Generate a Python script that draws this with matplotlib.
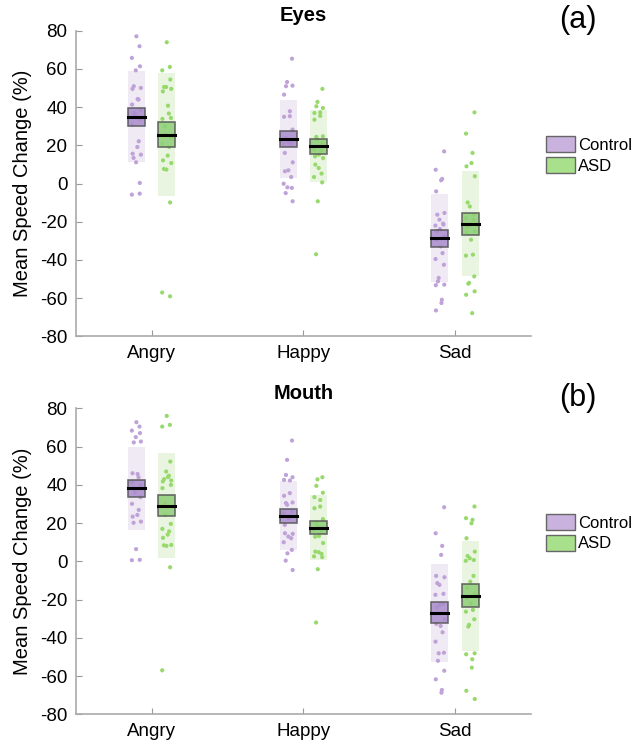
import matplotlib.pyplot as plt
import numpy as np
from matplotlib.patches import Rectangle, Patch

plt.rcParams['font.family'] = ['Liberation Sans', 'DejaVu Sans']
plt.rcParams['axes.unicode_minus'] = False

emotions = ['Angry', 'Happy', 'Sad']
groups = ['Control', 'ASD']

# summary values: mean, half-width of 95% CI, SD
eyes_mean = {'Control': [34.8, 23.3, -28.7], 'ASD': [25.6, 19.5, -21.0]}
eyes_ci = {'Control': [4.8, 4.4, 4.6], 'ASD': [6.5, 3.9, 5.7]}
eyes_sd = {'Control': [23.8, 20.6, 23.0], 'ASD': [32.0, 18.8, 27.3]}

mouth_mean = {'Control': [38.3, 23.9, -26.8], 'ASD': [29.2, 17.7, -17.9]}
mouth_ci = {'Control': [4.4, 3.6, 5.3], 'ASD': [5.6, 3.6, 5.9]}
mouth_sd = {'Control': [21.7, 17.9, 25.6], 'ASD': [27.5, 17.0, 28.8]}

# individual participants
eyes_control_angry = [77.0, 71.8, 65.7, 61.3, 59.2, 50.9, 50.0, 49.5, 44.2, 43.9, 41.3, 38.7,
                      36.9, 36.0, 33.8, 30.8, 22.1, 19.1, 15.6, 15.1, 13.4, 11.1, 0.3, -5.8, -5.3]
eyes_asd_angry = [73.9, 61.0, 59.2, 54.4, 50.5, 50.5, 49.5, 48.2, 40.7, 36.6, 33.8, 34.3, 29.9,
                  25.6, 23.8, 20.9, 19.1, 14.6, 12.1, 10.7, 7.6, 7.3, -9.9, -57.0, -59.0]
eyes_control_happy = [65.3, 53.1, 50.9, 51.2, 46.5, 37.8, 35.2, 34.9, 28.2, 23.8, 23.0, 21.2,
                      20.9, 20.3, 21.5, 16.0, 11.1, 6.4, 6.9, 3.4, -0.1, -2.3, -2.0, -5.0, -9.3]
eyes_asd_happy = [49.5, 42.7, 40.4, 39.5, 36.9, 37.2, 35.4, 33.4, 24.7, 24.4, 23.0, 21.2, 17.7,
                  17.2, 15.1, 14.2, 13.3, 9.9, 8.1, 5.2, 3.4, 0.6, -9.3, -37.0]
eyes_control_sad = [16.8, 7.2, 2.4, 1.7, -4.1, -15.4, -16.3, -18.9, -21.5, -22.0, -21.0, -23.8,
                    -25.0, -27.7, -29.4, -32.9, -36.4, -39.5, -42.5, -49.4, -51.2, -52.9, -53.2,
                    -60.8, -62.5, -66.4]
eyes_asd_sad = [37.2, 26.1, 16.0, 10.7, 9.0, 3.8, -9.9, -12.0, -16.3, -18.1, -19.0, -21.5, -22.8,
                -25.0, -25.6, -29.4, -37.2, -37.7, -48.6, -52.0, -52.4, -56.4, -58.2, -67.8]

mouth_control_angry = [72.8, 70.5, 68.4, 67.1, 65.0, 62.2, 62.7, 46.1, 45.7, 44.0, 41.2, 39.9,
                       38.0, 36.0, 33.6, 30.1, 26.9, 24.3, 23.4, 20.8, 20.2, 6.4, 0.8, 0.6]
mouth_asd_angry = [76.1, 71.4, 70.5, 52.2, 47.0, 43.0, 42.3, 41.8, 44.1, 44.8, 38.3, 40.0, 30.4,
                   24.3, 19.6, 17.0, 15.7, 14.0, 12.3, 8.6, 8.4, 8.1, -3.1, -57.0]
mouth_control_happy = [63.2, 53.1, 45.2, 44.0, 42.6, 42.3, 35.7, 34.3, 30.8, 30.5, 29.6, 26.0,
                       25.2, 23.4, 22.6, 19.1, 14.4, 14.7, 13.0, 12.1, 10.0, 6.0, 4.2, 0.4, -4.5]
mouth_asd_happy = [44.0, 42.9, 39.5, 35.9, 33.6, 32.1, 28.7, 27.8, 22.1, 20.3, 18.2, 17.8, 16.3,
                   15.4, 13.2, 12.9, 9.6, 5.1, 4.8, 3.9, 2.6, 2.2, -4.1, -32.0]
mouth_control_sad = [28.3, 14.7, 8.1, 3.4, -7.6, -8.3, -11.4, -12.3, -17.0, -17.5, -22.3, -22.8,
                     -24.0, -30.3, -32.7, -33.8, -37.1, -42.0, -47.8, -48.1, -52.0, -57.2, -61.7,
                     -67.3, -68.7]
mouth_asd_sad = [28.7, 22.6, 21.7, 19.9, 12.1, 5.1, 2.8, 1.6, 0.7, 0.3, -7.6, -10.6, -14.0, -16.6,
                 -19.2, -21.9, -25.4, -26.3, -30.3, -33.2, -34.1, -48.1, -48.6, -51.2, -55.6,
                 -67.7, -72.0]

eyes_points = {'Control': [eyes_control_angry, eyes_control_happy, eyes_control_sad],
               'ASD': [eyes_asd_angry, eyes_asd_happy, eyes_asd_sad]}
mouth_points = {'Control': [mouth_control_angry, mouth_control_happy, mouth_control_sad],
                'ASD': [mouth_asd_angry, mouth_asd_happy, mouth_asd_sad]}

point_col = {'Control': '#bfa2d8', 'ASD': '#98d96c'}
box_col = {'Control': '#a98ccb', 'ASD': '#8fcf78'}
band_col = {'Control': '#f0eaf4', 'ASD': '#e9f5e1'}
legend_col = {'Control': '#c9b3de', 'ASD': '#a8e08c'}

offset = {'Control': -0.1, 'ASD': 0.1}
w = 0.112


def panel(ax, means, cis, sds, points, title, tag):
    for g in groups:
        for i in range(3):
            xc = i + 1 + offset[g]
            m, ci, sd = means[g][i], cis[g][i], sds[g][i]
            ax.add_patch(Rectangle((xc - w / 2, m - sd), w, 2 * sd, facecolor=band_col[g],
                                   edgecolor='none', zorder=1))
            y = np.array(points[g][i])
            k = np.arange(len(y))
            jit = 0.03 * np.sin(k * 2.39 + i)
            ax.scatter(xc + jit, y, s=9, color=point_col[g], edgecolors='none', zorder=2)
            ax.add_patch(Rectangle((xc - w / 2, m - ci), w, 2 * ci, facecolor=box_col[g],
                                   edgecolor='#555555', linewidth=1.2, alpha=0.85, zorder=3))
            ax.plot([xc - w / 2, xc + w / 2], [m, m], color='black', lw=2.2, zorder=4)

    ax.set_xlim(0.5, 3.5)
    ax.set_ylim(-80, 80)
    ax.set_yticks(np.arange(-80, 81, 20))
    ax.set_xticks([1, 2, 3])
    ax.set_xticklabels(emotions)
    ax.set_ylabel('Mean Speed Change (%)', fontsize=14.5, labelpad=6)
    ax.tick_params(direction='in', length=4, labelsize=13.5, color='#999999', pad=6)
    for s in ['top', 'right']:
        ax.spines[s].set_visible(False)
    for s in ['left', 'bottom']:
        ax.spines[s].set_color('#aaaaaa')
        ax.spines[s].set_linewidth(1.2)
    ax.set_title(title, fontsize=14.5, fontweight='bold', pad=7)
    ax.text(1.103, 1.035, tag, transform=ax.transAxes, fontsize=22, ha='center', va='center')
    handles = [Patch(facecolor=legend_col[g], edgecolor='#666666', label=g) for g in groups]
    ax.legend(handles=handles, loc='upper left', bbox_to_anchor=(1.033, 0.655), frameon=False,
              fontsize=12, handlelength=1.75, handleheight=1.1, handletextpad=0.15,
              labelspacing=0.25, borderaxespad=0, borderpad=0)


fig = plt.figure(figsize=(6.36, 7.46), dpi=100)
ax1 = fig.add_axes([0.119, 0.549, 0.716, 0.410])
ax2 = fig.add_axes([0.119, 0.0425, 0.716, 0.410])

panel(ax1, eyes_mean, eyes_ci, eyes_sd, eyes_points, 'Eyes', '(a)')
panel(ax2, mouth_mean, mouth_ci, mouth_sd, mouth_points, 'Mouth', '(b)')

fig.savefig('out.png', dpi=100)
